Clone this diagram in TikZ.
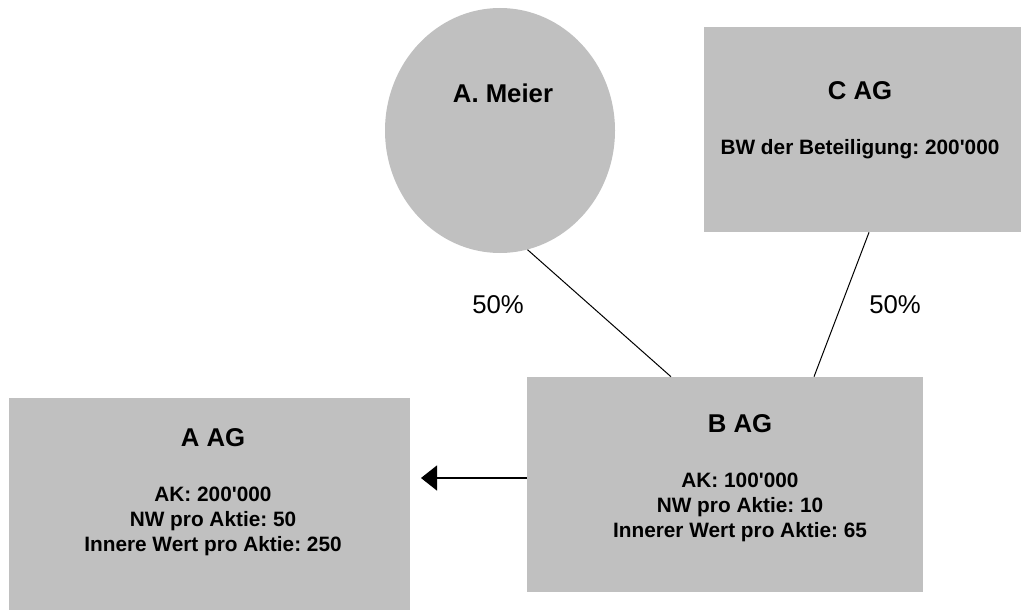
\documentclass[tikz,border=0pt]{standalone}
\usepackage{fontspec}
\setmainfont{Liberation Sans}
\usetikzlibrary{arrows.meta,shapes.geometric}
\definecolor{boxgray}{RGB}{192,192,192}
\frenchspacing
\newcommand{\sq}{\textquotesingle}
\tikzset{
  boxnode/.style={rectangle,fill=boxgray,inner sep=0pt},
  titletext/.style={font=\fontsize{19.3}{23}\selectfont\bfseries},
  infotext/.style={font=\fontsize{15.6}{18.75}\selectfont\bfseries,align=center},
  pcttext/.style={font=\fontsize{19.3}{23}\selectfont}
}
\begin{document}
\begin{tikzpicture}[x=0.75pt,y=-0.75pt]
        \useasboundingbox (0,0) rectangle (1021,610);
        %% shapes
        \node[ellipse,fill=boxgray,inner sep=0pt,minimum width=172.5pt,minimum height=183.75pt] (meier) at (500,130.5) {};
        \node[boxnode,minimum width=237.75pt,minimum height=153.75pt] (cag) at (862.5,129.5) {};
        \node[boxnode,minimum width=297pt,minimum height=161.25pt] (bag) at (725,484.5) {};
        \node[boxnode,minimum width=300.75pt,minimum height=159pt] (aag) at (209.5,504) {};
        %% texts
        \node[titletext] (meiertitle) at (503,93) {A. Meier};
        \node[titletext] (cagtitle) at (860,91) {C AG};
        \node[infotext] (cagtext) at (860,149) {BW der Beteiligung: 200\sq000};
        \node[titletext] (bagtitle) at (740,424) {B AG};
        \node[infotext] (bagtext) at (740,507) {AK: 100\sq000\\NW pro Aktie: 10\\Innerer Wert pro Aktie: 65};
        \node[titletext] (aagtitle) at (213,438) {A AG};
        \node[infotext] (aagtext) at (213,521) {AK: 200\sq000\\NW pro Aktie: 50\\Innere Wert pro Aktie: 250};
        %% shares
        \draw[line width=0.75pt] (meier.-77) -- ([xshift=-40.5pt]bag.north);
        \draw[line width=0.75pt] ([xshift=4.9pt]cag.south) -- ([xshift=66.75pt]bag.north);
        \node[pcttext] (meierpct) at (498,305) {50\%};
        \node[pcttext] (cagpct) at (895,305) {50\%};
        %% arrow
        \coordinate (arrowend) at (421,478);
        \draw[line width=1pt,-{Triangle[length=12pt,width=18.75pt]}] (bag.west |- arrowend) -- (arrowend);
\end{tikzpicture}
\end{document}
